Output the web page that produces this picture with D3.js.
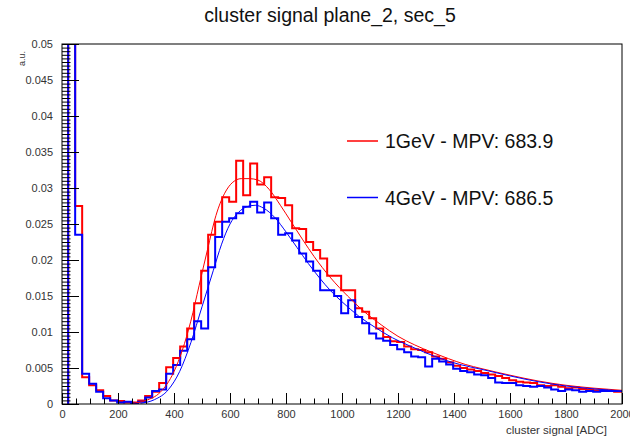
<!DOCTYPE html>
<html>
<head>
<meta charset="utf-8">
<script src="https://cdn.jsdelivr.net/npm/d3@7"></script>
<style>
  body { margin: 0; background: #fff; }
  svg { font-family: "Liberation Sans", Arial, sans-serif; }
</style>
</head>
<body>
<svg width="630" height="438"></svg>
<script>
const w = 630;
const h = 438;
const margin = { top: 44, right: 8, bottom: 34, left: 62 };

// histogram binning (ADC)
const binStart = 22;
const binWidth = 25;

// 1 GeV histogram contents, one per bin
const hist1GeV = [
  0.09, 0.0275, 0.0037, 0.0026, 0.0019, 0.0011, 0.0005, 0.0004, 0.0002, 0.0002,
  0.0005, 0.0011, 0.0017, 0.0029, 0.0051, 0.0064, 0.0080, 0.0105, 0.0140, 0.0185,
  0.0235, 0.0253, 0.0287, 0.0281, 0.0338, 0.0290, 0.0334, 0.0305, 0.0315, 0.0287,
  0.0286, 0.0276, 0.0244, 0.0243, 0.0225, 0.0214, 0.0202, 0.0178, 0.0178, 0.0158,
  0.0158, 0.0133, 0.0128, 0.0119, 0.0105, 0.0093, 0.0087, 0.0086, 0.0080, 0.0076,
  0.0075, 0.0072, 0.0066, 0.0063, 0.0058, 0.0053, 0.0050, 0.0048, 0.0046, 0.0043,
  0.0041, 0.0039, 0.0036, 0.0033, 0.0031, 0.0030, 0.0029, 0.0026, 0.0025, 0.0026,
  0.0024, 0.0022, 0.0023, 0.0021, 0.0020, 0.0019, 0.0019, 0.0018, 0.0017, 0.0017
];

// 4 GeV histogram contents
const hist4GeV = [
  0.10, 0.0235, 0.0042, 0.0028, 0.0017, 0.0008, 0.0005, 0.0002, 0.0003, 0.0001,
  0.0003, 0.0009, 0.0018, 0.0020, 0.0042, 0.0054, 0.0074, 0.0090, 0.0115, 0.0105,
  0.0190, 0.0232, 0.0253, 0.0258, 0.0265, 0.0274, 0.0281, 0.0266, 0.0280, 0.0258,
  0.0235, 0.0237, 0.0227, 0.0209, 0.0198, 0.0185, 0.0158, 0.0158, 0.0150, 0.0126,
  0.0144, 0.0121, 0.0112, 0.0098, 0.0091, 0.0088, 0.0082, 0.0076, 0.0072, 0.0066,
  0.0065, 0.0052, 0.0063, 0.0059, 0.0055, 0.0049, 0.0046, 0.0044, 0.0041, 0.0040,
  0.0036, 0.0030, 0.0029, 0.0029, 0.0026, 0.0025, 0.0024, 0.0025, 0.0023, 0.0020,
  0.0018, 0.0020, 0.0019, 0.0017, 0.0018, 0.0017, 0.0018, 0.0018, 0.0018, 0.0018
];

// fit curves
const fit1GeVx = [250, 300, 350, 400, 430, 460, 490, 520, 550, 580, 610, 640, 670, 700, 740, 780, 820, 860, 900, 960,
  1020, 1080, 1140, 1200, 1260, 1320, 1380, 1440, 1500, 1600, 1700, 1800, 1900, 2000];
const fit1GeVy = [0.0001, 0.0005, 0.0016, 0.0045, 0.0075, 0.0115, 0.0165, 0.0215, 0.0262, 0.0292, 0.0308, 0.0313, 0.0313,
  0.0311, 0.0298, 0.0276, 0.0252, 0.0228, 0.0205, 0.0175, 0.0150, 0.0128, 0.0110, 0.0094, 0.0082, 0.0072, 0.0063,
  0.0055, 0.0049, 0.0040, 0.0032, 0.0026, 0.0022, 0.0019];

const fit4GeVx = [280, 330, 380, 420, 460, 500, 540, 570, 600, 630, 660, 690, 720, 760, 800, 840, 880, 920, 960, 1000,
  1060, 1120, 1180, 1240, 1300, 1360, 1420, 1500, 1600, 1700, 1800, 1900, 2000];
const fit4GeVy = [0.0001, 0.0006, 0.0020, 0.0045, 0.0085, 0.0135, 0.0185, 0.0222, 0.0250, 0.0266, 0.0274, 0.0276, 0.0272,
  0.0259, 0.0239, 0.0217, 0.0195, 0.0175, 0.0157, 0.0142, 0.0122, 0.0106, 0.0092, 0.0081, 0.0071, 0.0062, 0.0055,
  0.0048, 0.0039, 0.0031, 0.0025, 0.0021, 0.0018];

const legendLabels = ["1GeV - MPV: 683.9", "4GeV - MPV: 686.5"];
const colors = ["#ff0000", "#0000ff"];

const xTicks = [0, 200, 400, 600, 800, 1000, 1200, 1400, 1600, 1800, 2000];
const yTicks = [0, 0.005, 0.01, 0.015, 0.02, 0.025, 0.03, 0.035, 0.04, 0.045, 0.05];

const svg = d3.select("svg");

const x = d3.scaleLinear().domain([0, 2000]).range([margin.left, w - margin.right]);
const y = d3.scaleLinear().domain([0, 0.05]).range([h - margin.bottom, margin.top]);

svg.append("defs").append("clipPath").attr("id", "frame")
  .append("rect")
  .attr("x", x(0)).attr("y", y(0.05))
  .attr("width", x(2000) - x(0)).attr("height", y(0) - y(0.05));

const plot = svg.append("g").attr("clip-path", "url(#frame)");

function histPoints(vals) {
  const pts = [[binStart, 0]];
  vals.forEach((v, i) => pts.push([binStart + i * binWidth, v]));
  pts.push([binStart + vals.length * binWidth, vals[vals.length - 1]]);
  return pts;
}

const stepLine = d3.line()
  .x(d => x(d[0]))
  .y(d => y(d[1]))
  .curve(d3.curveStepAfter);

const fitLine = d3.line()
  .x(d => x(d[0]))
  .y(d => y(d[1]))
  .curve(d3.curveMonotoneX);

[hist1GeV, hist4GeV].forEach((vals, k) => {
  plot.append("path")
    .attr("d", stepLine(histPoints(vals)))
    .attr("fill", "none")
    .attr("stroke", colors[k])
    .attr("stroke-width", 2);
});

[[fit1GeVx, fit1GeVy], [fit4GeVx, fit4GeVy]].forEach((f, k) => {
  plot.append("path")
    .attr("d", fitLine(f[0].map((v, i) => [v, f[1][i]])))
    .attr("fill", "none")
    .attr("stroke", colors[k])
    .attr("stroke-width", 1);
});

// axes, ROOT style: ticks pointing inside the frame
const yMinor = d3.range(0, 0.05001, 0.0005);
const xMinor = d3.range(0, 2001, 50);

svg.append("g")
  .attr("transform", `translate(${x(0)},0)`)
  .call(d3.axisLeft(y).tickValues(yMinor).tickSize(-8.5).tickFormat(""))
  .call(g => g.select(".domain").remove());

svg.append("g")
  .attr("class", "y-axis")
  .attr("transform", `translate(${x(0)},0)`)
  .call(d3.axisLeft(y).tickValues(yTicks).tickSize(-17).tickPadding(9)
    .tickFormat(d => d === 0 ? "0" : String(+d.toFixed(3))))
  .call(g => g.select(".domain").remove());

svg.append("g")
  .attr("transform", `translate(0,${y(0)})`)
  .call(d3.axisBottom(x).tickValues(xMinor).tickSize(-5.5).tickFormat(""))
  .call(g => g.select(".domain").remove());

svg.append("g")
  .attr("class", "x-axis")
  .attr("transform", `translate(0,${y(0)})`)
  .call(d3.axisBottom(x).tickValues(xTicks).tickSize(-11).tickPadding(6).tickFormat(d3.format("d")))
  .call(g => g.select(".domain").remove());

svg.selectAll(".tick line").attr("stroke", "#000");
svg.selectAll(".tick text")
  .attr("font-size", 11)
  .attr("fill", "#333")
  .attr("font-family", "Liberation Sans, Arial, sans-serif");

// frame
svg.append("rect")
  .attr("x", x(0)).attr("y", y(0.05))
  .attr("width", x(2000) - x(0)).attr("height", y(0) - y(0.05))
  .attr("fill", "none")
  .attr("stroke", "#000")
  .attr("stroke-width", 1);

// titles
svg.append("text")
  .attr("x", 330).attr("y", 22)
  .attr("text-anchor", "middle")
  .attr("font-size", 19.5)
  .attr("fill", "#111")
  .text("cluster signal plane_2, sec_5");

svg.append("text")
  .attr("x", 607).attr("y", 434)
  .attr("text-anchor", "end")
  .attr("font-size", 11.5)
  .attr("fill", "#333")
  .text("cluster signal [ADC]");

svg.append("text")
  .attr("transform", "translate(25,51) rotate(-90)")
  .attr("text-anchor", "end")
  .attr("font-size", 9)
  .attr("fill", "#333")
  .text("a.u.");

// legend
const legend = svg.append("g").attr("id", "legend");
legendLabels.forEach((lab, k) => {
  const ly = 141 + k * 56.5;
  legend.append("line")
    .attr("x1", 347).attr("x2", 378)
    .attr("y1", ly).attr("y2", ly)
    .attr("stroke", colors[k])
    .attr("stroke-width", 1.5);
  legend.append("text")
    .attr("x", 385).attr("y", ly + 7)
    .attr("font-size", 19.5)
    .attr("fill", "#111")
    .text(lab);
});
</script>
</body>
</html>
